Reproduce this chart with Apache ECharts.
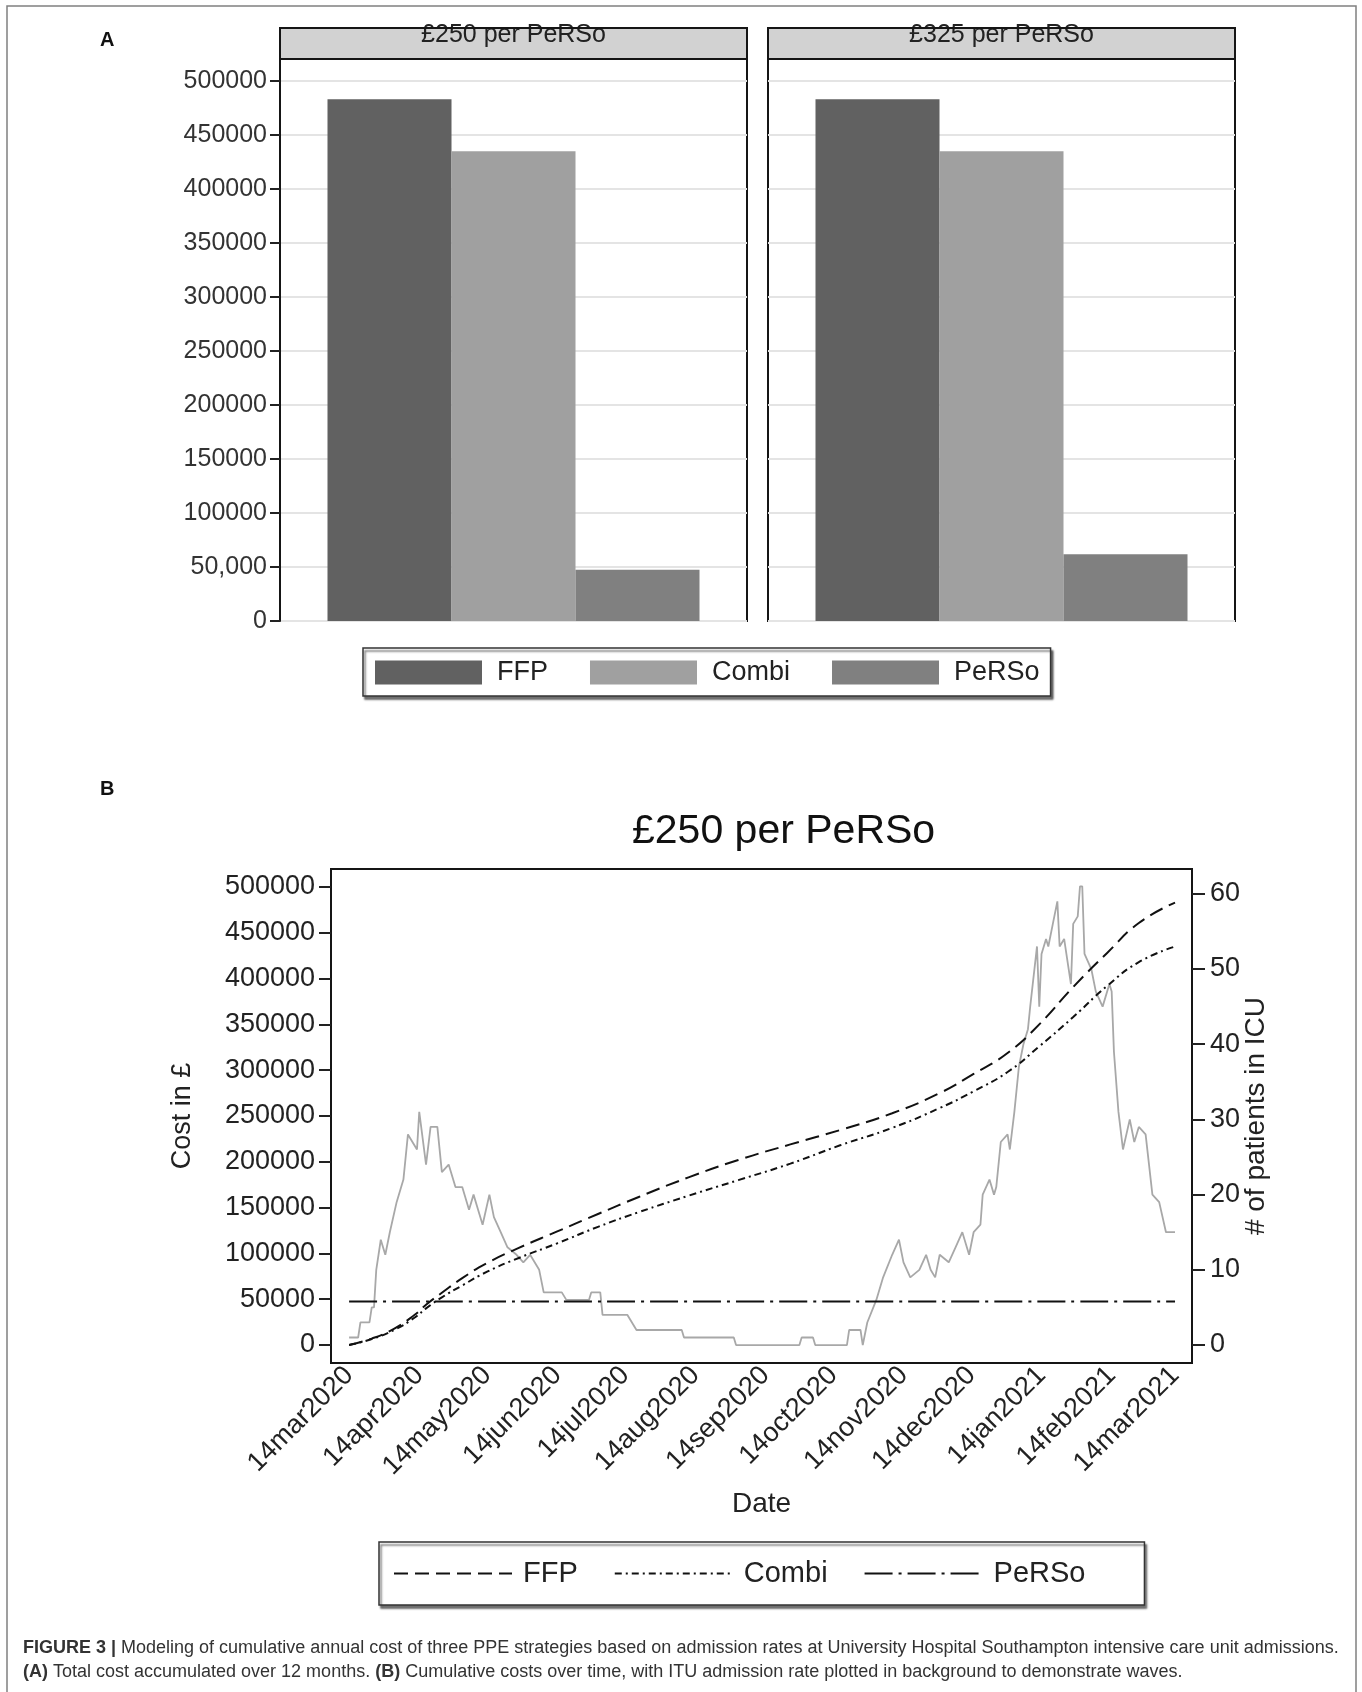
<!DOCTYPE html>
<html><head><meta charset="utf-8">
<script src="https://cdn.jsdelivr.net/npm/echarts@6/dist/echarts.min.js"></script>
<style>html,body{margin:0;padding:0;background:#fff}#c{width:1362px;height:1692px}</style>
</head><body><div id="c"></div>
<script>
// ---------- data ----------
const strategies = ['FFP', 'Combi', 'PeRSo'];
const panelTitles = ['£250 per PeRSo', '£325 per PeRSo'];
const totals250 = [483000, 435000, 47500];
const totals325 = [483000, 435000, 61750];
const barTickValues = [0, 50000, 100000, 150000, 200000, 250000, 300000, 350000, 400000, 450000, 500000];
const barTickLabels = ['0', '50,000', '100000', '150000', '200000', '250000', '300000', '350000', '400000', '450000', '500000'];
const costTickValues = [0, 50000, 100000, 150000, 200000, 250000, 300000, 350000, 400000, 450000, 500000];
const costTickLabels = ['0', '50000', '100000', '150000', '200000', '250000', '300000', '350000', '400000', '450000', '500000'];
const icuTickValues = [0, 10, 20, 30, 40, 50, 60];
const dateTickLabels = ['14mar2020', '14apr2020', '14may2020', '14jun2020', '14jul2020', '14aug2020', '14sep2020',
  '14oct2020', '14nov2020', '14dec2020', '14jan2021', '14feb2021', '14mar2021'];
// [day since 14mar2020, cumulative cost in £]
const ffpCumulative = [[0,0],[10,7000],[20,18000],[29,33000],[34,44000],[41,57000],[50,73000],[61,89500],[75,106000],
  [92,124000],[110,143000],[128,161600],[150,183000],[172,202000],[195,219000],[217,234700],[240,253000],[261,275000],
  [276,296000],[291,318800],[305,350000],[320,390800],[335,428000],[349,460700],[365,483000]];
const combiCumulative = [[0,0],[10,6500],[20,16500],[29,30000],[34,40000],[41,52000],[50,65000],[61,80000],[75,95000],
  [92,111000],[110,129000],[128,145000],[150,163000],[172,180000],[195,198000],[217,218000],[240,237000],[261,258700],
  [276,277000],[291,298000],[305,326000],[320,358000],[335,392000],[349,418000],[365,435000]];
const persoCumulative = [[0,47500],[365,47500]];
// [day since 14mar2020, patients in ICU]
const icuPatients = [[0,1],[4,1],[5,3],[9,3],[10,5],[11,5],[12,10],[14,14],[16,12],[18,15],[21,19],[24,22],[26,28],[28,27],
  [30,26],[31,31],[34,24],[36,29],[39,29],[41,23],[44,24],[47,21],[50,21],[53,18],[55,20],[57,18],[59,16],[62,20],[64,17],
  [67,15],[70,13],[74,12],[77,11],[80,12],[82,11],[84,10],[86,7],[94,7],[96,6],[106,6],[107,7],[111,7],[112,4],[123,4],
  [127,2],[147,2],[148,1],[170,1],[171,0],[199,0],[200,1],[205,1],[206,0],[220,0],[221,2],[226,2],[227,0],[229,3],[233,6],
  [236,9],[240,12],[243,14],[245,11],[248,9],[252,10],[255,12],[257,10],[259,9],[261,12],[265,11],[268,13],[271,15],
  [274,12],[276,15],[279,16],[280,20],[283,22],[285,20],[286,21],[288,27],[291,28],[292,26],[294,31],[296,37],[298,40],
  [300,42],[301,45],[304,53],[305,45],[306,52],[308,54],[309,53],[311,56],[313,59],[314,53],[316,54],[318,50],[319,48],
  [320,56],[322,57],[323,61],[324,61],[325,52],[328,50],[330,47],[333,45],[336,48],[337,47],[338,39],[340,31],[342,26],
  [345,30],[347,27],[349,29],[352,28],[355,20],[358,19],[361,15],[365,15]];

// ---------- helpers ----------
const FONT = 'Liberation Sans, Arial, sans-serif';
const DAY = 86400000;
const T0 = Date.UTC(2020, 2, 14);
const dateTicks = dateTickLabels.map((_, i) => Math.round((Date.UTC(2020, 2 + i, 14) - T0) / DAY));
const dateLabel = v => { const i = dateTicks.indexOf(Math.round(v)); return i >= 0 ? dateTickLabels[i] : ''; };

// layout (px)
const A = { lefts: [280, 768], width: 467, top: 59, bottom: 621, headTop: 28 };
const B = { left: 331, right: 1192, top: 869, bottom: 1363 };
const H = 1692, W = 1362;

const grids = [
  { left: A.lefts[0], top: A.top, width: A.width, height: A.bottom - A.top },
  { left: A.lefts[1], top: A.top, width: A.width, height: A.bottom - A.top },
  { left: B.left, top: B.top, width: B.right - B.left, height: B.bottom - B.top }
].map(g => Object.assign(g, { show: true, borderColor: '#151515', borderWidth: 2, backgroundColor: '#fff' }));

const barY = (gi, showLabels) => ({
  type: 'value', gridIndex: gi, min: 0, max: 520370, interval: 50000,
  axisLine: { show: showLabels, onZero: false, lineStyle: { color: '#151515', width: 2 } },
  axisTick: { show: showLabels, customValues: barTickValues, length: 10, lineStyle: { color: '#222', width: 2 } },
  axisLabel: { show: showLabels, customValues: barTickValues, margin: 13, fontFamily: FONT, fontSize: 25, color: '#333',
    formatter: v => barTickLabels[barTickValues.indexOf(v)] },
  splitLine: { show: true, lineStyle: { color: '#e4e4e4', width: 2 } }
});
const barX = (gi) => ({ type: 'category', gridIndex: gi, data: [panelTitles[gi]],
  axisLine: { show: false, onZero: false }, axisTick: { show: false }, axisLabel: { show: false } });

const barColors = ['#616161', '#a0a0a0', '#808080'];
const barSeries = [];
[totals250, totals325].forEach((vals, gi) => {
  strategies.forEach((s, k) => barSeries.push({
    name: s, type: 'bar', xAxisIndex: gi, yAxisIndex: gi, data: [vals[k]],
    barWidth: 124, barGap: '0%', itemStyle: { color: barColors[k] }, z: 3
  }));
});

const lineDash = { 'FFP': [14, 7], 'Combi': [7, 4, 2, 4], 'PeRSo': [28, 6, 3, 6] };
const cumData = { 'FFP': ffpCumulative, 'Combi': combiCumulative, 'PeRSo': persoCumulative };
const lineSeries = strategies.map(s => ({
  name: s + ' (B)', type: 'line', xAxisIndex: 2, yAxisIndex: 2, data: cumData[s],
  symbol: 'none', smooth: 0.5,
  lineStyle: { color: '#111', width: 2, type: lineDash[s] }, itemStyle: { color: '#111' }, z: 4
}));
const icuSeries = {
  name: 'ICU', type: 'line', xAxisIndex: 2, yAxisIndex: 3, data: icuPatients,
  symbol: 'none', lineStyle: { color: '#a8a8a8', width: 1.8 }, z: 2
};

const graphics = [
  { type: 'rect', shape: { x: 7, y: 6, width: 1349, height: 1700 }, style: { fill: 'none', stroke: '#808080', lineWidth: 1.5 }, silent: true },
  { type: 'text', x: 100, y: 40, style: { text: 'A', font: 'bold 20px ' + FONT, fill: '#111', textVerticalAlign: 'middle' } },
  { type: 'text', x: 100, y: 789, style: { text: 'B', font: 'bold 20px ' + FONT, fill: '#111', textVerticalAlign: 'middle' } },
];
A.lefts.forEach((l, i) => {
  graphics.push({ type: 'rect', shape: { x: l, y: A.headTop, width: A.width, height: A.top - A.headTop },
    style: { fill: '#d2d2d2', stroke: 'none' } });
  graphics.push({ type: 'text', x: l + A.width / 2, y: 35, style: { text: panelTitles[i], font: '25px ' + FONT, fill: '#222',
    textAlign: 'center', textVerticalAlign: 'middle' } });
  graphics.push({ type: 'rect', shape: { x: l, y: A.headTop, width: A.width, height: A.top - A.headTop },
    style: { fill: 'none', stroke: '#151515', lineWidth: 2 } });
});
const rich = { b: { fontWeight: 'bold', fontSize: 18, fontFamily: FONT, fill: '#333' } };
graphics.push({ type: 'text', x: 23, y: 1639, style: {
  text: '{b|FIGURE 3 |} Modeling of cumulative annual cost of three PPE strategies based on admission rates at University Hospital Southampton intensive care unit admissions.',
  font: '18px ' + FONT, fill: '#333', rich } });
graphics.push({ type: 'text', x: 23, y: 1663, style: {
  text: '{b|(A)} Total cost accumulated over 12 months. {b|(B)} Cumulative costs over time, with ITU admission rate plotted in background to demonstrate waves.',
  font: '18px ' + FONT, fill: '#333', rich } });

const option = {
  animation: false,
  backgroundColor: '#fff',
  title: { text: panelTitles[0], left: 627, top: 806, textStyle: { fontFamily: FONT, fontSize: 41, fontWeight: 'normal', color: '#111' } },
  legend: [
    { data: strategies, left: 363, top: 648, orient: 'horizontal', icon: 'rect', itemWidth: 107, itemHeight: 24, itemGap: 42,
      padding: [11, 11, 10, 12], borderColor: '#333', borderWidth: 1.5, backgroundColor: '#fff',
      shadowColor: 'rgba(0,0,0,0.55)', shadowOffsetX: 2, shadowOffsetY: 3, shadowBlur: 2,
      textStyle: { fontFamily: FONT, fontSize: 27, color: '#222', padding: [0, 0, 8, 10] }, selectedMode: false },
    { data: strategies.map(s => s + ' (B)'), left: 379, top: 1542, orient: 'horizontal', itemWidth: 118, itemHeight: 24, itemGap: 36,
      padding: [17, 59, 17, 14], borderColor: '#333', borderWidth: 1.5, backgroundColor: '#fff',
      shadowColor: 'rgba(0,0,0,0.55)', shadowOffsetX: 2, shadowOffsetY: 3, shadowBlur: 2,
      itemStyle: { opacity: 0 },
      formatter: n => n.replace(' (B)', ''),
      textStyle: { fontFamily: FONT, fontSize: 29, color: '#222', padding: [0, 0, 0, 6] }, selectedMode: false }
  ],
  grid: grids,
  xAxis: [barX(0), barX(1), {
    type: 'value', gridIndex: 2, min: -8, max: 372.5,
    name: 'Date', nameLocation: 'middle', nameGap: 127, nameMoveOverlap: false,
    nameTextStyle: { fontFamily: FONT, fontSize: 28, color: '#222' },
    axisLine: { onZero: false, lineStyle: { color: '#151515', width: 2 } },
    axisTick: { show: false },
    axisLabel: { customValues: dateTicks, rotate: 45, margin: 8, fontFamily: FONT, fontSize: 27, color: '#222', formatter: dateLabel },
    splitLine: { show: false }
  }],
  yAxis: [barY(0, true), barY(1, false), {
    type: 'value', gridIndex: 2, position: 'left', min: -19650, max: 519650,
    name: 'Cost in £', nameLocation: 'middle', nameRotate: 90, nameGap: 135, nameMoveOverlap: false,
    nameTextStyle: { fontFamily: FONT, fontSize: 27, color: '#222' },
    axisLine: { show: true, onZero: false, lineStyle: { color: '#151515', width: 2 } },
    axisTick: { show: true, customValues: costTickValues, length: 12, lineStyle: { color: '#222', width: 2 } },
    axisLabel: { customValues: costTickValues, margin: 16, fontFamily: FONT, fontSize: 27, color: '#222',
      formatter: v => costTickLabels[costTickValues.indexOf(v)] },
    splitLine: { show: false }
  }, {
    type: 'value', gridIndex: 2, position: 'right', min: -2.39, max: 63.3,
    name: '# of patients in ICU', nameLocation: 'middle', nameRotate: 90, nameGap: 50, nameMoveOverlap: false,
    nameTextStyle: { fontFamily: FONT, fontSize: 28, color: '#222' },
    axisLine: { show: true, onZero: false, lineStyle: { color: '#151515', width: 2 } },
    axisTick: { show: true, customValues: icuTickValues, length: 13, lineStyle: { color: '#222', width: 2 } },
    axisLabel: { customValues: icuTickValues, margin: 18, fontFamily: FONT, fontSize: 27, color: '#222' },
    splitLine: { show: false }
  }],
  series: barSeries.concat([icuSeries], lineSeries),
  graphic: graphics
};

const chart = echarts.init(document.getElementById('c'), null, { renderer: 'canvas', width: W, height: H });
chart.setOption(option);
</script></body></html>
